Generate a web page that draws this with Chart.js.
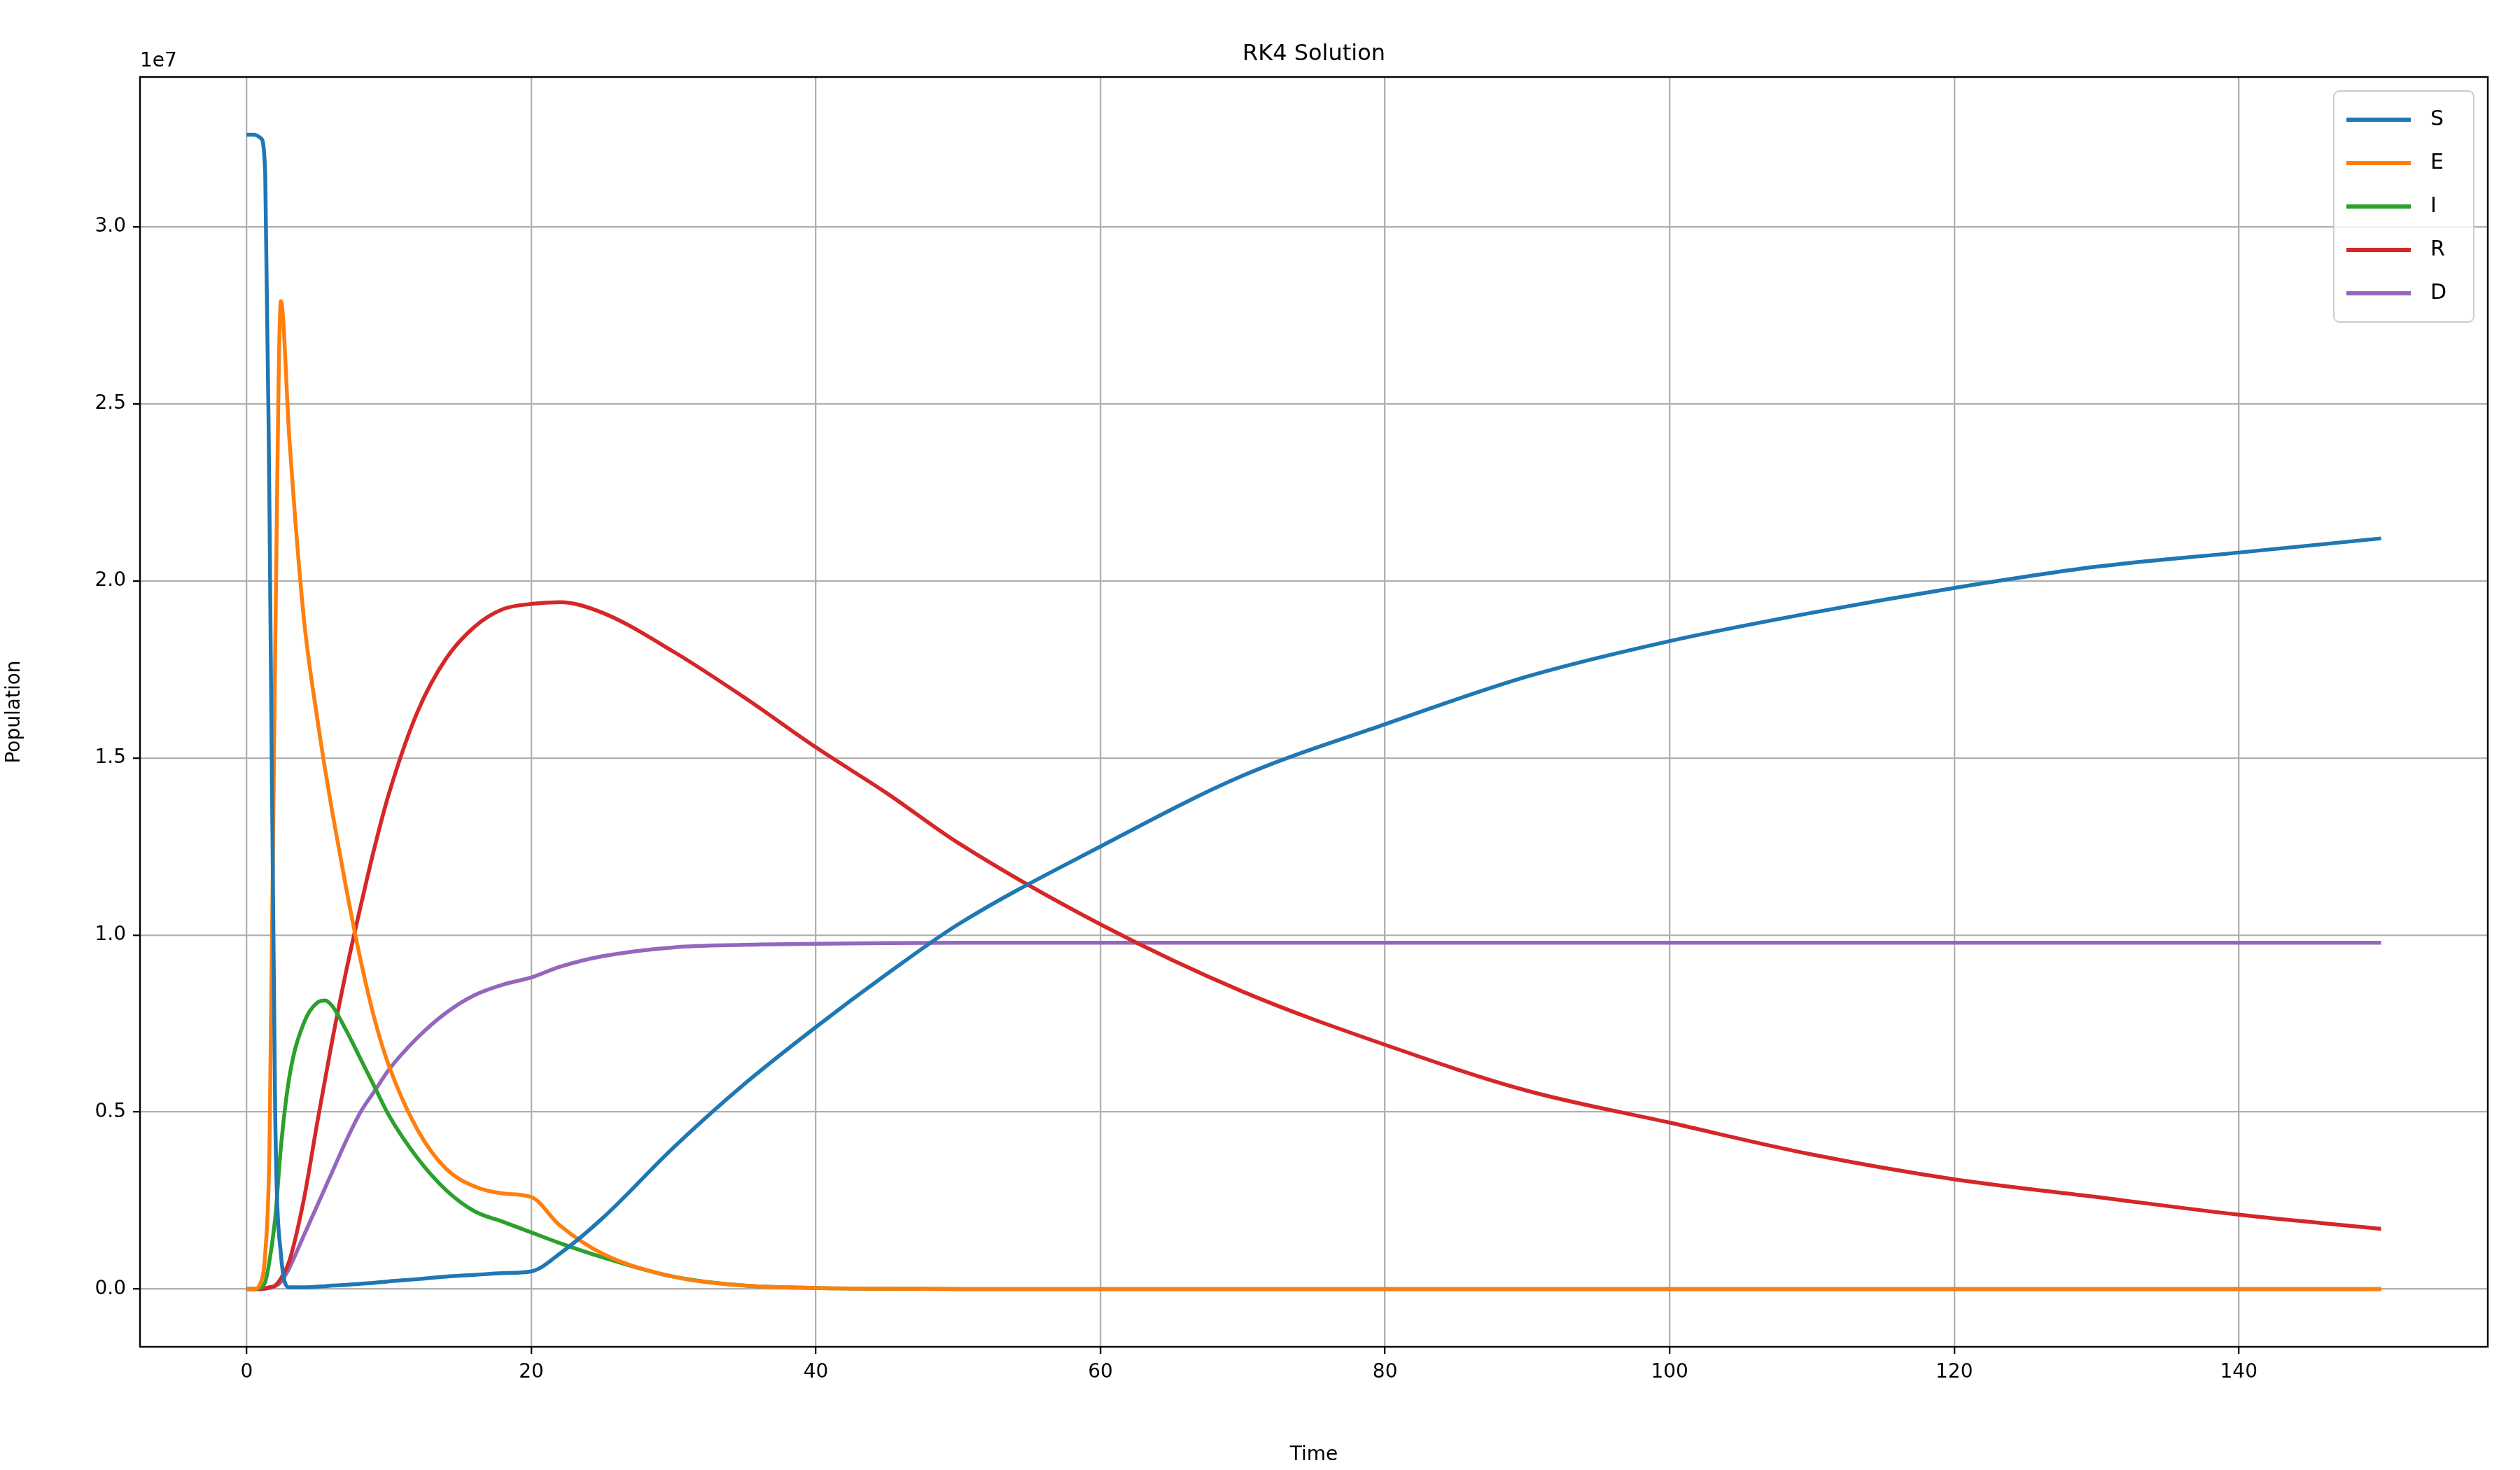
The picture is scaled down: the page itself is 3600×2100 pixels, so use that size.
<!DOCTYPE html>
<html>
<head>
<meta charset="utf-8">
<script src="https://cdn.jsdelivr.net/npm/chart.js@4"></script>
<style>
  html, body { margin: 0; padding: 0; background: #fff; }
</style>
</head>
<body>
<canvas id="myChart" width="3600" height="2100"></canvas>
<script>
// values in millions
const times = [0,0.5,1,1.3,1.6,2,2.4,3,4,5,5.5,6,7,8,9,10,12,14,16,18,20,22,25,30,35,40,45,50,60,70,80,90,100,110,120,130,140,150];
const S = [32.6,32.6,32.5,31.5,22,5,1.0,0.05,0.05,0.07,0.08,0.1,0.12,0.15,0.18,0.22,0.28,0.35,0.4,0.45,0.5,1.0,2.0,4.0,5.8,7.4,8.9,10.3,12.5,14.5,15.95,17.3,18.3,19.1,19.8,20.4,20.8,21.2];
const E = [0,0,0.2,1,4,18,27.9,24,19,16,14.7,13.5,11.3,9.3,7.6,6.3,4.5,3.4,2.9,2.7,2.6,1.8,1.0,0.35,0.1,0.03,0.01,0,0,0,0,0,0,0,0,0,0,0];
const I = [0,0,0.05,0.2,0.8,2,4,6,7.5,8.1,8.15,8.0,7.3,6.5,5.7,4.9,3.7,2.8,2.2,1.9,1.6,1.3,0.9,0.35,0.1,0.03,0.01,0,0,0,0,0,0,0,0,0,0,0];
const R = [0,0,0,0.02,0.05,0.1,0.3,0.8,2.5,4.8,5.9,7.0,9.0,10.8,12.5,14,16.3,17.8,18.7,19.2,19.35,19.4,19.1,18.0,16.7,15.3,14.0,12.6,10.3,8.4,6.9,5.6,4.7,3.8,3.1,2.6,2.1,1.7];
const D = [0,0,0,0.01,0.03,0.08,0.2,0.6,1.5,2.4,2.85,3.3,4.2,5.0,5.6,6.2,7.1,7.8,8.3,8.6,8.8,9.1,9.4,9.65,9.72,9.75,9.77,9.78,9.78,9.78,9.78,9.78,9.78,9.78,9.78,9.78,9.78,9.78];
const seriesNames = ["S","E","I","R","D"];
const seriesValues = [S,E,I,R,D];
const colors = ["#1f77b4","#ff7f0e","#2ca02c","#d62728","#9467bd"];
const xTicks = [0,20,40,60,80,100,120,140];
const yTicks = [0,5,10,15,20,25,30];

const FONT = "DejaVu Sans";
Chart.defaults.font.family = FONT;
Chart.defaults.color = "#000";

const extras = {
  id: "extras",
  afterDraw(chart) {
    const { ctx, chartArea: a } = chart;
    ctx.save();
    ctx.fillStyle = "#000";
    ctx.font = "32px " + FONT;
    ctx.textAlign = "center";
    ctx.textBaseline = "bottom";
    ctx.fillText("RK4 Solution", (a.left + a.right) / 2, a.top - 16);
    ctx.font = "28px " + FONT;
    ctx.textAlign = "left";
    ctx.fillText("1e7", a.left, a.top - 8);
    // legend
    const bw = 200, rowH = 62, bh = rowH * 5 + 20;
    const bx = a.right - 20 - bw, by = a.top + 20;
    ctx.fillStyle = "rgba(255,255,255,0.8)";
    ctx.strokeStyle = "#cccccc";
    ctx.lineWidth = 2;
    ctx.beginPath();
    ctx.roundRect(bx, by, bw, bh, 8);
    ctx.fill(); ctx.stroke();
    ctx.textBaseline = "middle";
    ctx.font = "30px " + FONT;
    seriesNames.forEach((n, i) => {
      const y = by + 10 + rowH * i + rowH / 2;
      ctx.strokeStyle = colors[i];
      ctx.lineWidth = 6;
      ctx.beginPath();
      ctx.moveTo(bx + 18, y); ctx.lineTo(bx + 110, y);
      ctx.stroke();
      ctx.fillStyle = "#000";
      ctx.fillText(n, bx + 138, y);
    });
    ctx.strokeStyle = "#000";
    ctx.lineWidth = 2.4;
    ctx.strokeRect(a.left, a.top, a.right - a.left, a.bottom - a.top);
    ctx.restore();
  }
};

new Chart(document.getElementById("myChart"), {
  type: "line",
  data: {
    datasets: seriesNames.map((n, i) => ({
      label: n,
      data: times.map((t, j) => ({ x: t, y: seriesValues[i][j] })),
      borderColor: colors[i],
      backgroundColor: colors[i],
      borderWidth: 5.5,
      pointRadius: 0,
      cubicInterpolationMode: "monotone",
      fill: false
    }))
  },
  options: {
    responsive: false,
    animation: false,
    devicePixelRatio: 1,
    layout: { padding: { top: 110, right: 46, left: 0, bottom: 0 } },
    plugins: { legend: { display: false }, title: { display: false }, tooltip: { enabled: false } },
    scales: {
      x: {
        type: "linear", min: -7.5, max: 157.5,
        afterBuildTicks: s => { s.ticks = xTicks.map(v => ({ value: v })); },
        afterFit: s => { s.height = 176; },
        grid: { color: "#b0b0b0", lineWidth: 2.3, tickColor: "#000", tickLength: 10 },
        border: { display: false },
        ticks: { font: { size: 28 }, padding: 10, maxRotation: 0 },
        title: { display: true, text: "Time", font: { size: 28 }, padding: { top: 8 } }
      },
      y: {
        type: "linear", min: -1.63, max: 34.23,
        afterBuildTicks: s => { s.ticks = yTicks.map(v => ({ value: v })); },
        afterFit: s => { s.width = 200; },
        grid: { color: "#b0b0b0", lineWidth: 2.3, tickColor: "#000", tickLength: 10 },
        border: { display: false },
        ticks: { font: { size: 28 }, padding: 10, callback: v => (v / 10).toFixed(1) },
        title: { display: true, text: "Population", font: { size: 28 }, padding: { bottom: 14 } }
      }
    }
  },
  plugins: [extras]
});
</script>
</body>
</html>
